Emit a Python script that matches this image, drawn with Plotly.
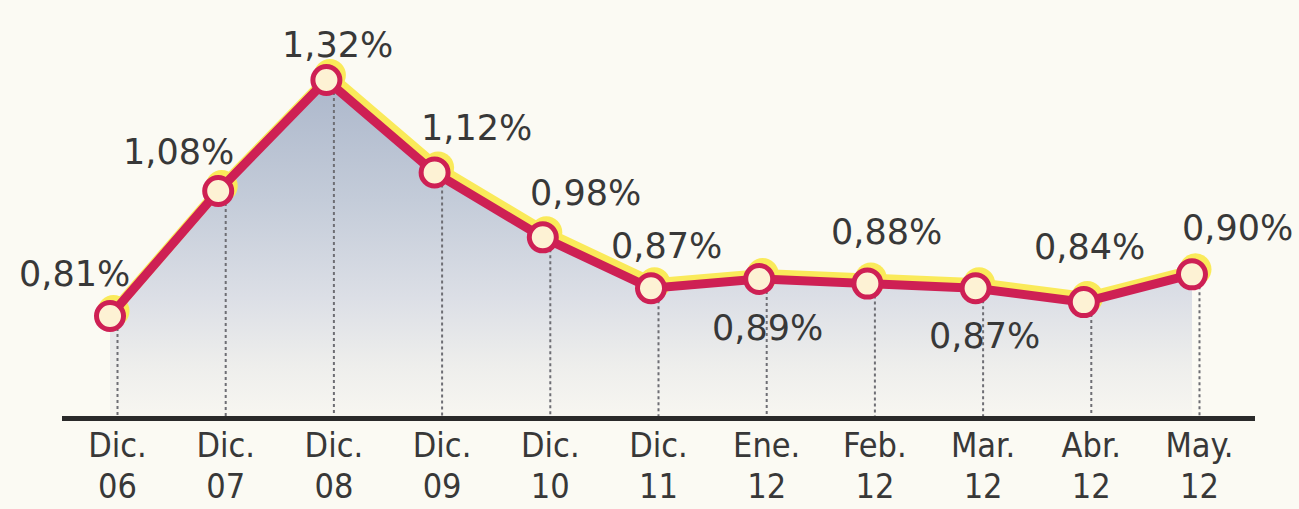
import plotly.graph_objects as go

# ---- data ----
months = ["Dic.", "Dic.", "Dic.", "Dic.", "Dic.", "Dic.", "Ene.", "Feb.", "Mar.", "Abr.", "May."]
years = ["06", "07", "08", "09", "10", "11", "12", "12", "12", "12", "12"]
values = [0.81, 1.08, 1.32, 1.12, 0.98, 0.87, 0.89, 0.88, 0.87, 0.84, 0.90]

labels = [f"{v:.2f}".replace(".", ",") + "%" for v in values]
idx = list(range(len(values)))

# ---- styling ----
PAPER = "#fbfaf3"
RED = "rgb(206,32,84)"
YELLOW = "rgb(250,234,90)"
TEXT = "#383838"
W, H = 1299, 509

# value-label offsets in pixels (dx, dy up)
label_offsets = [(-43, 42), (-47, 39), (4, 35), (34, 45), (35, 44), (8, 42),
                 (1, -49), (12, 52), (1, -48), (-2, 55), (38, 46)]

y_lo, y_hi = 0.5939, 1.4929
x_lo, x_hi = -0.513, 10.513          # black (text) layer
shift_col = 7.5 / 108.2              # colour layer misregistration
shift_yel = 3.5 / 108.2
shift_y2 = 5 / 462.7

col_rng = [x_lo + shift_col, x_hi + shift_col]
yel_rng = [x_lo + shift_col - shift_yel, x_hi + shift_col - shift_yel]

fig = go.Figure()

# 1) area fill (colour layer, main subplot xy)
fig.add_trace(go.Scatter(
    x=idx, y=values, xaxis="x", yaxis="y", mode="lines",
    line=dict(width=0, color=RED), fill="tozeroy",
    fillgradient=dict(type="vertical",
                      colorscale=[[0, "rgb(247,246,241)"], [0.15, "rgb(238,238,236)"],
                                  [0.35, "rgb(220,223,230)"], [0.64, "rgb(196,204,217)"],
                                  [1, "rgb(172,183,203)"]],
                      start=y_lo, stop=1.32),
    hoverinfo="skip", showlegend=False))

# 2) dotted drop lines (black layer)
dx, dy = [], []
for i, v in zip(idx, values):
    dx += [i, i, None]
    dy += [v, y_lo, None]
fig.add_trace(go.Scatter(
    x=dx, y=dy, xaxis="x2", yaxis="y", mode="lines",
    line=dict(color="#6e6e74", width=2, dash="dot"),
    hoverinfo="skip", showlegend=False))

# 3) yellow misregistration glow
fig.add_trace(go.Scatter(
    x=idx, y=values, xaxis="x3", yaxis="y2", mode="lines+markers",
    line=dict(color=YELLOW, width=10),
    marker=dict(size=32, color=YELLOW, line=dict(width=0)),
    hoverinfo="skip", showlegend=False))

# 4) red line with markers
fig.add_trace(go.Scatter(
    x=idx, y=values, xaxis="x4", yaxis="y", mode="lines+markers",
    line=dict(color=RED, width=9),
    marker=dict(size=27, color="rgb(253,242,212)", line=dict(width=5, color=RED)),
    hoverinfo="skip", showlegend=False))

# 5) invisible carrier for the year-label axis
fig.add_trace(go.Scatter(
    x=idx, y=values, xaxis="x5", yaxis="y", mode="markers",
    marker=dict(size=1, opacity=0), hoverinfo="skip", showlegend=False))

# value labels (black layer)
for i, v, t, (ox, oy) in zip(idx, values, labels, label_offsets):
    fig.add_annotation(x=i, y=v, xref="x2", yref="y", text=t, showarrow=False,
                       xshift=ox, yshift=oy, xanchor="center", yanchor="middle",
                       font=dict(family="DejaVu Sans", size=35, color=TEXT))

dom_x = [62 / W, 1255 / W]
dom_y = [(H - 416) / H, 1]
tickfont = dict(family="DejaVu Sans Condensed", size=34, color=TEXT)

fig.update_layout(
    width=W, height=H, paper_bgcolor=PAPER, plot_bgcolor="rgba(0,0,0,0)",
    margin=dict(l=0, r=0, t=0, b=0, autoexpand=False), showlegend=False,
    xaxis=dict(domain=dom_x, range=col_rng, anchor="y", showgrid=False, zeroline=False,
               showline=True, linewidth=5, linecolor="#2a2a2a", ticks="",
               showticklabels=False, automargin=False),
    xaxis2=dict(domain=dom_x, range=[x_lo, x_hi], overlaying="x", anchor="y",
                showgrid=False, zeroline=False, showline=False, ticks="",
                tickmode="array", tickvals=idx, ticktext=months, ticklabelstandoff=6,
                tickfont=tickfont, automargin=False),
    xaxis3=dict(domain=dom_x, range=yel_rng, overlaying="x", anchor="y", visible=False,
                automargin=False),
    xaxis4=dict(domain=dom_x, range=col_rng, overlaying="x", anchor="y", visible=False,
                automargin=False),
    xaxis5=dict(domain=dom_x, range=[x_lo, x_hi], overlaying="x", anchor="free",
                position=(H - 463) / H, side="bottom", showgrid=False, zeroline=False,
                showline=False, ticks="", tickmode="array", tickvals=idx, ticktext=years,
                tickfont=tickfont, automargin=False),
    yaxis=dict(domain=dom_y, range=[y_lo, y_hi], visible=False, automargin=False),
    yaxis2=dict(domain=dom_y, range=[y_lo - shift_y2, y_hi - shift_y2], overlaying="y",
                anchor="x", visible=False, automargin=False),
)

fig.write_html(
    "out.html",
    config={"displayModeBar": False},
    post_script="document.body.style.margin='0';document.body.style.background='" + PAPER + "';",
)
